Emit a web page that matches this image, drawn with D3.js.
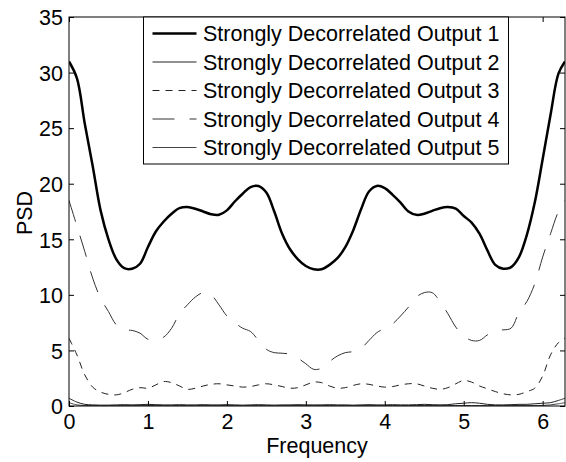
<!DOCTYPE html>
<html>
<head>
<meta charset="utf-8">
<script src="https://cdn.jsdelivr.net/npm/d3@7"></script>
<style>
  body { margin: 0; background: #fff; }
  svg text { font-family: "Liberation Sans", Arial, sans-serif; fill: #000; }
</style>
</head>
<body>
<svg id="chart"></svg>
<script>
// frequency grid (rad/sample)
const freq = [0.0, 0.1, 0.2, 0.3, 0.4, 0.5, 0.6, 0.7, 0.8, 0.9,
              1.0, 1.1, 1.2, 1.3, 1.4, 1.5, 1.6, 1.7, 1.8, 1.9,
              2.0, 2.1, 2.2, 2.3, 2.4, 2.5, 2.6, 2.7, 2.8, 2.9,
              3.0, 3.1, 3.2, 3.3, 3.4, 3.5, 3.6, 3.7, 3.8, 3.9,
              4.0, 4.1, 4.2, 4.3, 4.4, 4.5, 4.6, 4.7, 4.8, 4.9,
              5.0, 5.1, 5.2, 5.3, 5.4, 5.5, 5.6, 5.7, 5.8, 5.9,
              6.0, 6.1, 6.2, 6.2832];

const output1 = [31.0, 29.5, 25.4, 21.6, 17.6, 15.0, 13.2, 12.4, 12.35, 12.8,
                 14.3, 15.7, 16.6, 17.3, 17.8, 17.9, 17.75, 17.5, 17.25, 17.2,
                 17.6, 18.4, 19.1, 19.7, 19.8, 19.2, 17.5, 15.5, 14.1, 13.2,
                 12.6, 12.3, 12.3, 12.7, 13.3, 14.3, 15.8, 17.7, 19.3, 19.8,
                 19.6, 19.0, 18.3, 17.5, 17.2, 17.3, 17.55, 17.8, 17.9, 17.75,
                 17.1, 16.5, 15.5, 14.0, 12.7, 12.35, 12.5, 13.4, 15.4, 18.3,
                 22.2, 26.2, 29.9, 31.0];

const output2 = [0.7, 0.35, 0.15, 0.1, 0.08, 0.08, 0.1, 0.12, 0.1, 0.12,
                 0.15, 0.12, 0.1, 0.1, 0.12, 0.1, 0.1, 0.12, 0.1, 0.1,
                 0.12, 0.1, 0.08, 0.1, 0.12, 0.1, 0.08, 0.1, 0.1, 0.12,
                 0.1, 0.1, 0.1, 0.12, 0.1, 0.1, 0.08, 0.1, 0.12, 0.1,
                 0.1, 0.12, 0.1, 0.1, 0.12, 0.15, 0.12, 0.1, 0.12, 0.2,
                 0.25, 0.3, 0.25, 0.15, 0.1, 0.1, 0.12, 0.15, 0.15, 0.2,
                 0.25, 0.3, 0.5, 0.7];

const output3 = [6.1, 4.6, 2.8, 1.7, 1.25, 1.05, 1.0, 1.2, 1.5, 1.65,
                 1.6, 1.9, 2.2, 2.1, 1.8, 1.5, 1.6, 1.8, 1.95, 2.0,
                 1.9, 1.8, 1.7, 1.75, 1.9, 2.0, 1.9, 1.75, 1.6, 1.65,
                 1.9, 2.15, 2.1, 1.8, 1.6, 1.65, 1.85, 2.0, 1.95, 1.8,
                 1.7, 1.75, 1.9, 2.0, 2.0, 1.8, 1.6, 1.5, 1.65, 2.0,
                 2.3, 2.15, 1.8, 1.55, 1.3, 1.1, 1.0, 1.05, 1.3, 1.6,
                 2.7, 4.6, 5.7, 6.1];

const output4 = [18.5, 16.2, 13.9, 11.5, 9.7, 8.5, 7.3, 6.85, 6.8, 6.55,
                 6.0, 5.95, 6.2, 7.0, 8.3, 9.1, 9.8, 10.2, 10.0, 9.1,
                 8.1, 7.5, 7.0, 6.7, 5.9, 5.1, 4.8, 4.75, 4.65, 4.3,
                 3.8, 3.3, 3.4, 4.0, 4.5, 4.8, 4.9, 5.2, 5.9, 6.6,
                 7.0, 7.4, 8.1, 8.9, 9.8, 10.2, 10.2, 9.4, 8.3, 7.1,
                 6.3, 5.9, 5.9, 6.4, 6.8, 6.85, 7.0, 8.4, 9.4, 11.0,
                 13.4, 15.5, 17.5, 18.5];

const output5 = [0.3, 0.1, 0.05, 0.04, 0.04, 0.05, 0.04, 0.04, 0.05, 0.04,
                 0.04, 0.05, 0.04, 0.04, 0.05, 0.04, 0.04, 0.05, 0.04, 0.04,
                 0.05, 0.04, 0.04, 0.05, 0.04, 0.04, 0.05, 0.04, 0.04, 0.05,
                 0.04, 0.04, 0.05, 0.04, 0.04, 0.05, 0.04, 0.04, 0.05, 0.04,
                 0.04, 0.05, 0.04, 0.04, 0.05, 0.04, 0.04, 0.05, 0.04, 0.04,
                 0.05, 0.04, 0.04, 0.05, 0.04, 0.04, 0.05, 0.04, 0.04, 0.05,
                 0.05, 0.1, 0.2, 0.3];

const seriesNames = ['Strongly Decorrelated Output 1', 'Strongly Decorrelated Output 2',
                     'Strongly Decorrelated Output 3', 'Strongly Decorrelated Output 4',
                     'Strongly Decorrelated Output 5'];
const xTicks = [0, 1, 2, 3, 4, 5, 6];
const yTicks = [0, 5, 10, 15, 20, 25, 30, 35];

const series = [
    { name: seriesNames[0], values: output1, width: 2.5, dash: null,     color: '#000' },
    { name: seriesNames[1], values: output2, width: 1,   dash: null,     color: '#222' },
    { name: seriesNames[2], values: output3, width: 1,   dash: '7,6',    color: '#222' },
    { name: seriesNames[3], values: output4, width: 1,   dash: '22,15',  color: '#333' },
    { name: seriesNames[4], values: output5, width: 1,   dash: null,     color: '#444' }
];

const width = 566, height = 462;
const margin = { top: 17, right: 1, bottom: 56, left: 69 };
const innerW = width - margin.left - margin.right;
const innerH = height - margin.top - margin.bottom;

const svg = d3.select('#chart')
    .attr('width', width)
    .attr('height', height);

const chart = svg.append('g')
    .attr('transform', `translate(${margin.left}, ${margin.top})`);

const xscale = d3.scaleLinear().domain([0, 2 * Math.PI]).range([0, innerW]);
const yscale = d3.scaleLinear().domain([0, 35]).range([innerH, 0]);

chart.append('clipPath').attr('id', 'clip')
    .append('rect').attr('width', innerW).attr('height', innerH);

// lines
const line = d3.line()
    .x((d, i) => xscale(freq[i]))
    .y(d => yscale(d))
    .curve(d3.curveCatmullRom.alpha(0.5));

chart.append('g').attr('clip-path', 'url(#clip)')
    .selectAll('path')
    .data(series)
    .join('path')
    .attr('d', d => line(d.values))
    .attr('fill', 'none')
    .attr('stroke', d => d.color)
    .attr('stroke-width', d => d.width)
    .attr('stroke-dasharray', d => d.dash)
    .attr('stroke-linejoin', 'round');

// axes, matlab style: ticks inside on all four sides
const tickLen = 5;
const fontSize = 21.5;

const xaxis = d3.axisBottom(xscale).tickValues(xTicks).tickSize(-tickLen).tickPadding(8).tickFormat(d3.format('d'));
const xaxisTop = d3.axisTop(xscale).tickValues(xTicks).tickSize(-tickLen).tickFormat('');
const yaxis = d3.axisLeft(yscale).tickValues(yTicks).tickSize(-tickLen).tickPadding(6);
const yaxisRight = d3.axisRight(yscale).tickValues(yTicks).tickSize(-tickLen).tickFormat('');

const xg = chart.append('g').attr('transform', `translate(0, ${innerH})`).call(xaxis);
chart.append('g').call(xaxisTop);
const yg = chart.append('g').call(yaxis);
chart.append('g').attr('transform', `translate(${innerW}, 0)`).call(yaxisRight);

chart.selectAll('.domain').remove();
chart.selectAll('.tick line').attr('stroke', '#000');
xg.selectAll('text').attr('font-size', fontSize).attr('dy', '0.72em');
yg.selectAll('text').attr('font-size', fontSize).attr('dy', '0.36em');

chart.append('rect')
    .attr('width', innerW)
    .attr('height', innerH)
    .attr('fill', 'none')
    .attr('stroke', '#000')
    .attr('stroke-width', 1);

// axis labels
svg.append('text')
    .attr('x', margin.left + innerW / 2)
    .attr('y', 453)
    .attr('text-anchor', 'middle')
    .attr('font-size', fontSize)
    .text('Frequency');

svg.append('text')
    .attr('transform', 'rotate(-90)')
    .attr('x', -213)
    .attr('y', 32)
    .attr('text-anchor', 'middle')
    .attr('font-size', fontSize)
    .text('PSD');

// legend
const legend = chart.append('g')
    .attr('transform', `translate(${143.5 - margin.left}, 0)`);

legend.append('rect')
    .attr('width', 365)
    .attr('height', 147)
    .attr('fill', '#fff')
    .attr('stroke', '#000');

const rows = legend.selectAll('.row')
    .data(series)
    .join('g')
    .attr('class', 'row')
    .attr('transform', (d, i) => `translate(0, ${16.5 + i * 28.5})`);

rows.append('line')
    .attr('x1', 9).attr('x2', 53)
    .attr('stroke', d => d.color)
    .attr('stroke-width', d => d.width)
    .attr('stroke-dasharray', d => d.dash);

rows.append('text')
    .attr('x', 59.5)
    .attr('dy', '0.36em')
    .attr('font-size', fontSize)
    .text(d => d.name);
</script>
</body>
</html>
